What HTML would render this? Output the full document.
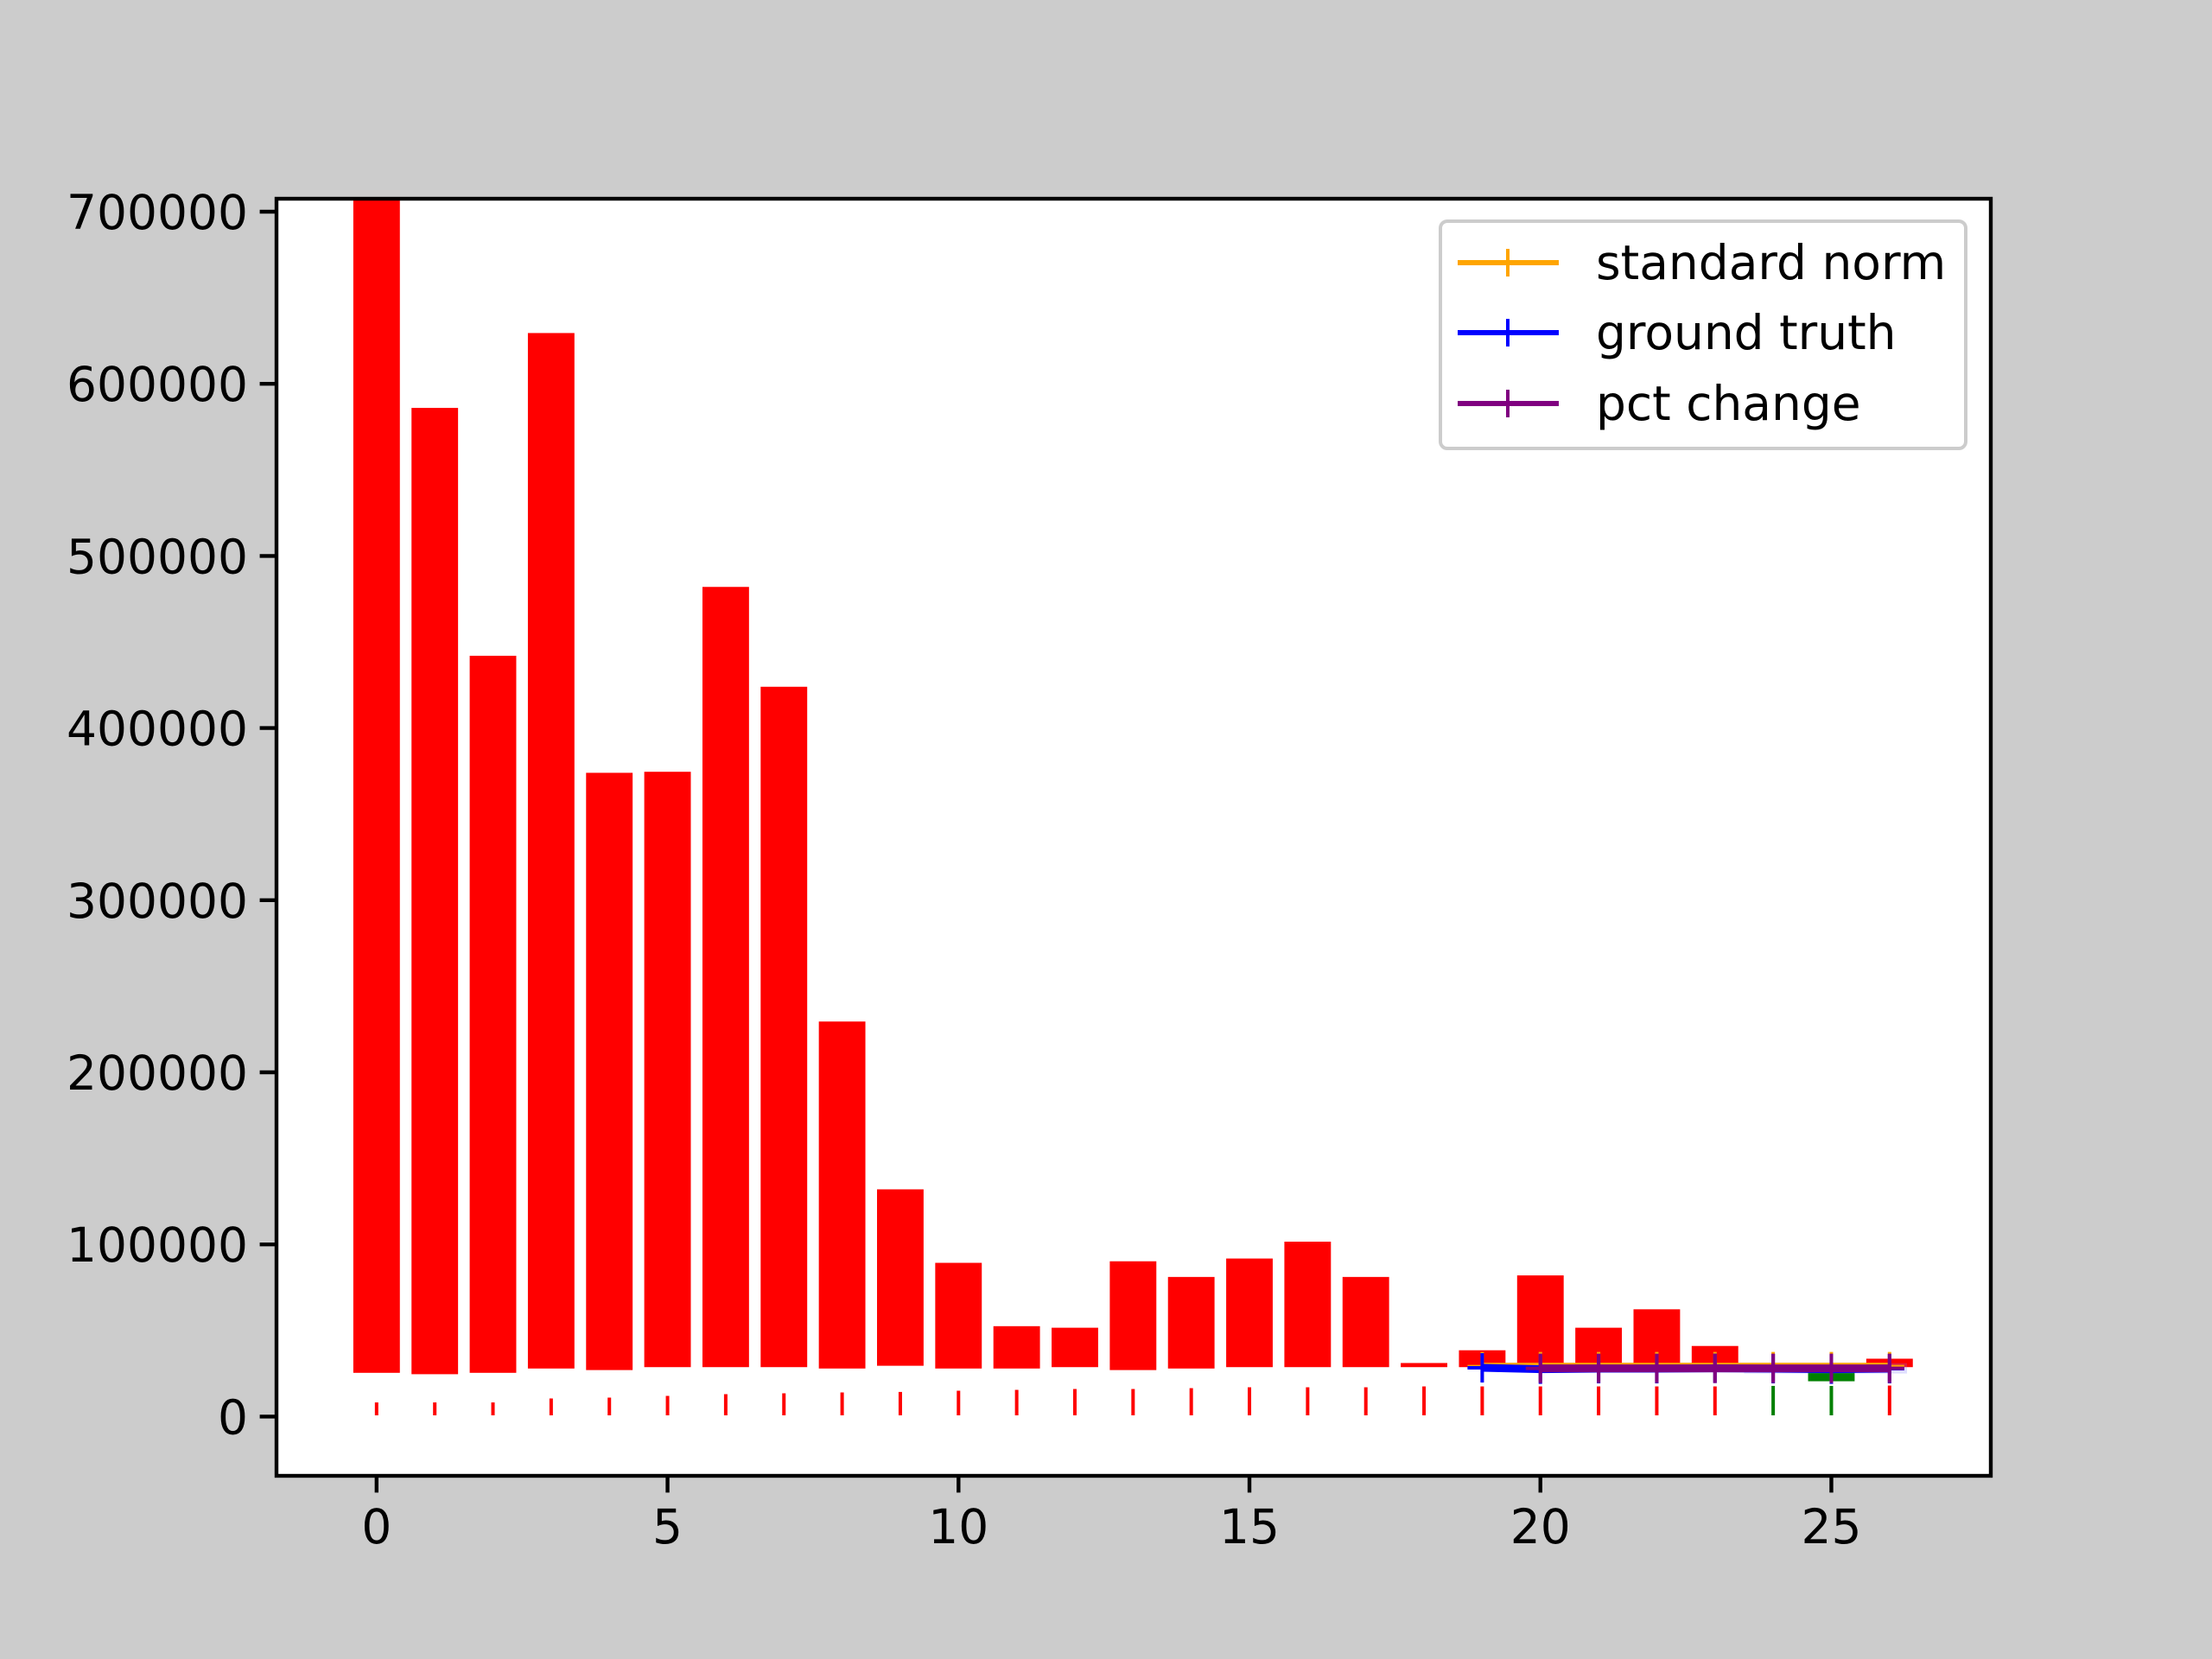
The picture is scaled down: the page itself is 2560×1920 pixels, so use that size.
<!DOCTYPE html>
<html><head><meta charset="utf-8"><style>
html,body{margin:0;padding:0;background:#cccccc;}
svg{display:block;font-family:"DejaVu Sans","Liberation Sans",sans-serif;}
</style></head><body>
<svg id="chart" width="2560" height="1920" viewBox="0 0 2560 1920">
<rect x="0" y="0" width="2560" height="1920" fill="#cccccc"/>
<rect x="320" y="230" width="1984" height="1478" fill="#ffffff"/>
<defs><clipPath id="clip"><rect x="320" y="230" width="1984" height="1478"/></clipPath></defs>
<g id="marks" clip-path="url(#clip)"></g>
<g id="axes"></g>
<g id="legend">
<rect x="1667" y="256" width="608" height="263" rx="8" fill="#ffffff" fill-opacity="0.8" stroke="#cccccc" stroke-width="4"/>
<g>
<line x1="1687" y1="304" x2="1804" y2="304" stroke="#ffa500" stroke-width="6"/>
<line x1="1745" y1="288" x2="1745" y2="320" stroke="#ffa500" stroke-width="4"/>
<text x="1847" y="323" font-size="55" fill="#000">standard norm</text></g>
<g>
<line x1="1687" y1="385" x2="1804" y2="385" stroke="#0000ff" stroke-width="6"/>
<line x1="1745" y1="369" x2="1745" y2="401" stroke="#0000ff" stroke-width="4"/>
<text x="1847" y="404" font-size="55" fill="#000">ground truth</text></g>
<g>
<line x1="1687" y1="467" x2="1804" y2="467" stroke="#800080" stroke-width="6"/>
<line x1="1745" y1="451" x2="1745" y2="483" stroke="#800080" stroke-width="4"/>
<text x="1847" y="486" font-size="55" fill="#000">pct change</text></g>
</g>
</svg>
<script>
const categories = [0,1,2,3,4,5,6,7,8,9,10,11,12,13,14,15,16,17,18,19,20,21,22,23,24,25,26];
const barTops = [725000,586000,442000,629500,374000,374600,482000,424000,229500,132000,89300,52500,51600,90200,81100,91800,101600,81100,31100,38500,82000,51600,62300,41000,28500,28700,33600];
const barBottoms = [25400,24600,25400,27900,27000,28700,28700,28700,27900,29500,27900,27900,28700,27000,27900,28700,28700,28700,28700,28700,28700,28700,28700,28700,26500,20500,28700];
const barColors = ['red','red','red','red','red','red','red','red','red','red','red','red','red','red','red','red','red','red','red','red','red','red','red','red','green','green','red'];
const errLow = [700,700,700,700,700,700,700,700,700,700,700,700,700,700,700,700,700,700,700,700,700,700,700,700,700,700,700];
const errHigh = [8200,8200,8200,10500,11000,12000,13000,13500,14000,14300,15000,15500,16000,16000,16500,17000,17000,17000,17500,17500,17500,17500,17500,17500,17800,17800,18000];
const stdX = [19,20,21,22,23,24,25,26];
const stdY = [29000,29000,29000,29000,29000,29000,29000,29000];
const gtX = [19,20,21,22,23,24,25,26];
const gtY = [28300,27500,27800,27800,28000,27800,27500,27800];
const pctX = [20,21,22,23,24,25,26];
const pctY = [28000,28000,28000,28000,28000,28000,28000];
const xTicks = [0,5,10,15,20,25];
const yTicks = [0,100000,200000,300000,400000,500000,600000,700000];
const yTickLabels = ['0','100000','200000','300000','400000','500000','600000','700000'];

const NS='http://www.w3.org/2000/svg';
const X0=-1.72, X1=27.74, Y0=-34440, Y1=707530;
const L=320,R=2304,T=230,B=1708;
function xs(v){return L+(v-X0)/(X1-X0)*(R-L);}
function ys(v){return B-(v-Y0)/(Y1-Y0)*(B-T);}
function mk(tag,attrs,parent){const e=document.createElementNS(NS,tag);for(const k in attrs)e.setAttribute(k,attrs[k]);parent.appendChild(e);return e;}
const marks=document.getElementById('marks');
const axes=document.getElementById('axes');
const bw=(xs(0.8)-xs(0));
categories.forEach((c,i)=>{
  const t=ys(barTops[i]), b=ys(barBottoms[i]);
  const r=mk('rect',{x:xs(c)-bw/2,y:Math.min(t,b),width:bw,height:Math.abs(b-t),fill:barColors[i]},marks);
  
  
  const e=mk('line',{x1:xs(c),x2:xs(c),y1:ys(errLow[i]),y2:ys(errHigh[i]),stroke:barColors[i],'stroke-width':4},marks);
  
  
});
const band=mk('rect',{x:xs(23.5),y:ys(31000),width:xs(26.3)-xs(23.5),height:ys(25000)-ys(31000),fill:'#8080ff','fill-opacity':0.25},marks);


function series(xa,ya,color,name){
  const g=mk('g',{},marks);
  
  
  mk('polyline',{points:xa.map((x,i)=>xs(x)+','+ys(ya[i])).join(' '),fill:'none',stroke:color,'stroke-width':9},g);
  xa.forEach((x,i)=>{
    const px=xs(x),py=ys(ya[i]);
    mk('line',{x1:px-17,x2:px+17,y1:py,y2:py,stroke:color,'stroke-width':4},g);
    mk('line',{x1:px,x2:px,y1:py-17,y2:py+17,stroke:color,'stroke-width':4},g);
  });
}
series(stdX,stdY,'#ffa500','standard-norm-line');
series(gtX,gtY,'#0000ff','ground-truth-line');
series(pctX,pctY,'#800080','pct-change-line');
const fr=mk('rect',{x:L,y:T,width:R-L,height:B-T,fill:'none',stroke:'#000','stroke-width':4.4},axes);


xTicks.forEach(v=>{
  const x=xs(v);
  const t=mk('line',{x1:x,x2:x,y1:B,y2:B+19.4,stroke:'#000','stroke-width':4.4},axes);
  
  
  const tx=mk('text',{x:x,y:B+78,'font-size':55,'text-anchor':'middle',fill:'#000'},axes);
  tx.textContent=String(v);
  
  
});
yTicks.forEach((v,i)=>{
  const y=ys(v);
  const t=mk('line',{x1:L-19.4,x2:L,y1:y,y2:y,stroke:'#000','stroke-width':4.4},axes);
  
  
  const tx=mk('text',{x:L-33,y:y+20,'font-size':55,'text-anchor':'end',fill:'#000'},axes);
  tx.textContent=yTickLabels[i];
  
  
});
</script>
</body></html>
